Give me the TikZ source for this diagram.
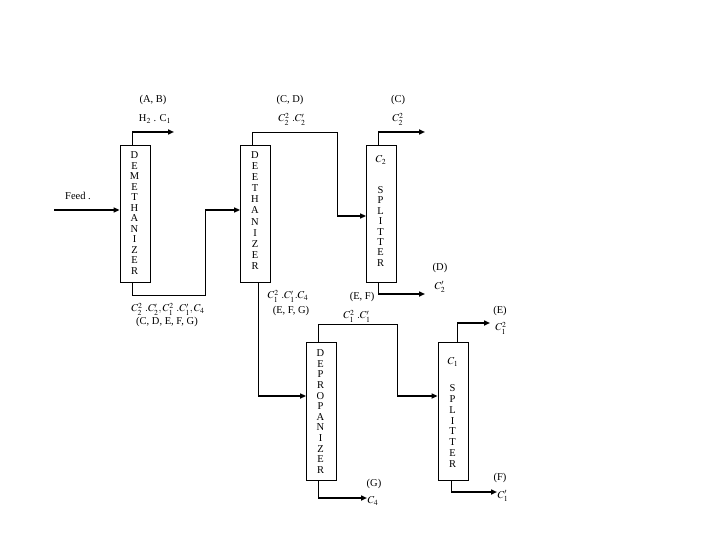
\documentclass[tikz,border=0pt]{standalone}
\usepackage{mathptmx}
\usepackage{fontspec}
\setmainfont{Liberation Serif}
\usetikzlibrary{arrows.meta}
\begin{document}
\begin{tikzpicture}[x=1pt,y=-1pt,
  column/.style={draw, line width=0.8pt, minimum width=30pt, inner sep=0pt},
  letters/.style={align=center, inner sep=0pt},
  lbl/.style={inner sep=0pt, font=\fontsize{10.5}{11}\selectfont},
  thinline/.style={line width=0.7pt},
  flow/.style={line width=1.6pt, -{Triangle[length=6pt,width=5pt]}}]
\useasboundingbox[fill=white] (0,0) rectangle (720,540);

% columns
\node[column, minimum height=137pt] (dm) at (135,213.5) {};
\node[column, minimum height=137pt] (de) at (255.5,213.5) {};
\node[column, minimum height=137pt] (c2s) at (381.5,213.5) {};
\node[column, minimum height=138pt] (dp) at (321.5,411) {};
\node[column, minimum height=138pt] (c3s) at (453,411) {};

% column texts
\node[letters, font=\fontsize{10.5}{10.5}\selectfont] (dmtxt) at (134.5,213) {D\\E\\M\\E\\T\\H\\A\\N\\I\\Z\\E\\R};
\node[letters, font=\fontsize{10.5}{11.1}\selectfont] (detxt) at (255,210.5) {D\\E\\E\\T\\H\\A\\N\\I\\Z\\E\\R};
\node[lbl] (c2name) at (381,160) {$C_2$};
\node[letters, font=\fontsize{10.5}{10.4}\selectfont] (c2txt) at (380.5,226.5) {S\\P\\L\\I\\T\\T\\E\\R};
\node[letters, font=\fontsize{10.5}{10.6}\selectfont] (dptxt) at (320.5,411.5) {D\\E\\P\\R\\O\\P\\A\\N\\I\\Z\\E\\R};
\node[lbl] (c3name) at (453,362) {$C_1$};
\node[letters, font=\fontsize{10.5}{10.8}\selectfont] (c3txt) at (452.5,426) {S\\P\\L\\I\\T\\T\\E\\R};

% coordinates
\coordinate (feedIn) at (54,210);
\coordinate (dmTop) at (132,132);
\coordinate (dmOut) at (174,132);
\coordinate (dmB1) at (132,295);
\coordinate (dmB2) at (205,295);
\coordinate (dmB3) at (205,210);
\coordinate (deT1) at (252,132);
\coordinate (deT2) at (337,132);
\coordinate (deT3) at (337,216);
\coordinate (c2T) at (378,132);
\coordinate (c2Out) at (425,132);
\coordinate (c2B) at (378,294);
\coordinate (c2BOut) at (425,294);
\coordinate (deB) at (258,396);
\coordinate (dpT1) at (318,324);
\coordinate (dpT2) at (397,324);
\coordinate (dpT3) at (397,396);
\coordinate (c3T) at (457,323);
\coordinate (c3Out) at (490,323);
\coordinate (c3B) at (451,492);
\coordinate (c3BOut) at (497,492);
\coordinate (dpB) at (318,498);
\coordinate (dpBOut) at (367,498);

% streams
\draw[flow] (feedIn) -- (feedIn -| dm.west);
\draw[thinline] (dm.north -| dmTop) -- (dmTop);
\draw[flow] (dmTop) -- (dmOut);
\draw[thinline] (dm.south -| dmB1) -- (dmB1) -- (dmB2) -- (dmB3);
\draw[flow] (dmB3) -- (dmB3 -| de.west);
\draw[thinline] (de.north -| deT1) -- (deT1) -- (deT2) -- (deT3);
\draw[flow] (deT3) -- (deT3 -| c2s.west);
\draw[thinline] (c2s.north -| c2T) -- (c2T);
\draw[flow] (c2T) -- (c2Out);
\draw[thinline] (c2s.south -| c2B) -- (c2B);
\draw[flow] (c2B) -- (c2BOut);
\draw[thinline] (de.south -| deB) -- (deB);
\draw[flow] (deB) -- (deB -| dp.west);
\draw[thinline] (dp.north -| dpT1) -- (dpT1) -- (dpT2) -- (dpT3);
\draw[flow] (dpT3) -- (dpT3 -| c3s.west);
\draw[thinline] (c3s.north -| c3T) -- (c3T);
\draw[flow] (c3T) -- (c3Out);
\draw[thinline] (c3s.south -| c3B) -- (c3B);
\draw[flow] (c3B) -- (c3BOut);
\draw[thinline] (dp.south -| dpB) -- (dpB);
\draw[flow] (dpB) -- (dpBOut);

% labels
\node[lbl] (feed) at (78,196) {Feed .};
\node[lbl] (ab) at (153,100) {(A, B)};
\node[lbl] (h2c1) at (155,119) {H$_2$ . C$_1$};
\node[lbl] (cd) at (290,100) {(C, D)};
\node[lbl] (cdf) at (292,119) {$C_2^2\ .C_2'$};
\node[lbl] (cl) at (398,100) {(C)};
\node[lbl] (clf) at (398,119) {$C_2^2$};
\node[lbl] (dl) at (440,268) {(D)};
\node[lbl] (dlf) at (440,287) {$C_2'$};
\node[lbl] (efl) at (362,297) {(E, F)};
\node[lbl] (eflf) at (357,316) {$C_1^2\ .C_1'$};
\node[lbl] (el) at (500,311) {(E)};
\node[lbl] (elf) at (501,328) {$C_1^2$};
\node[lbl] (fl) at (500,478) {(F)};
\node[lbl] (flf) at (503,496) {$C_1'$};
\node[lbl] (gl) at (374,484) {(G)};
\node[lbl] (glf) at (373,501) {$C_4$};
\node[lbl] (dmbf) at (168,309) {$C_2^2\ .C_2',C_1^2\ .C_1',C_4$};
\node[lbl] (dmbl) at (167,322) {(C, D, E, F, G)};
\node[lbl] (debf) at (288,296) {$C_1^2\ .C_1'.C_4$};
\node[lbl] (debl) at (291,311) {(E, F, G)};
\end{tikzpicture}
\end{document}
